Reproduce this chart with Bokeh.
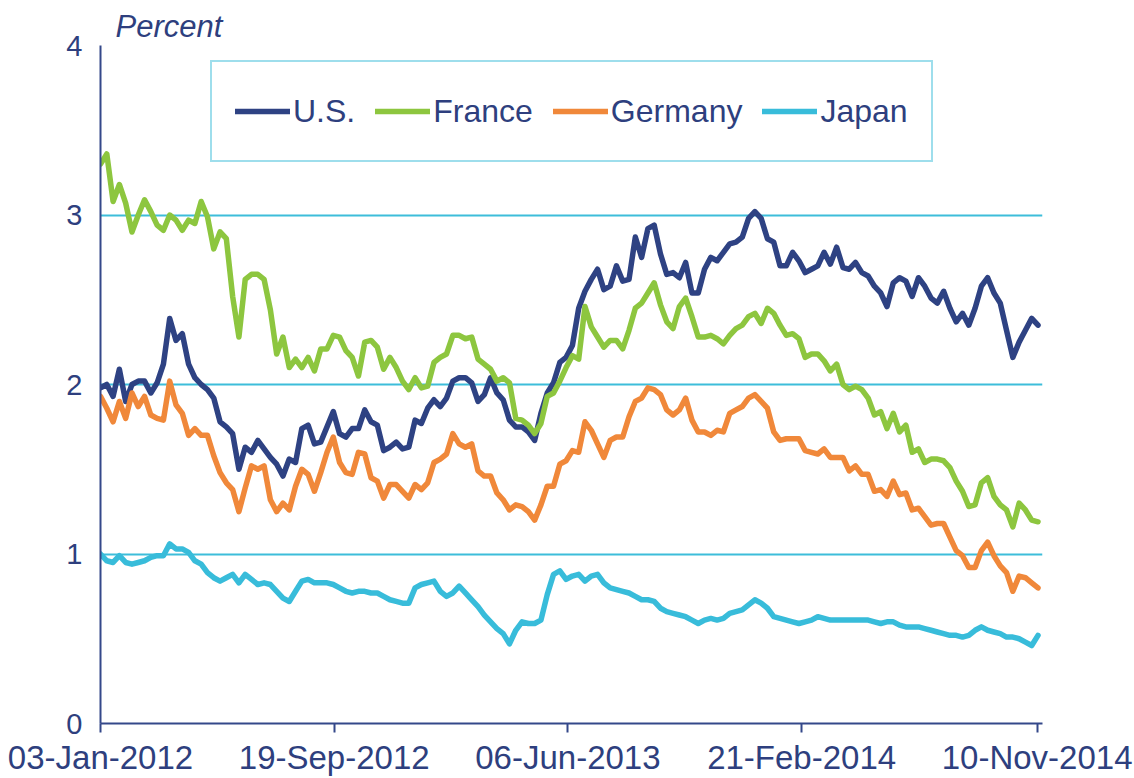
import pandas as pd
from bokeh.plotting import figure
from bokeh.models import Legend, LegendItem, FixedTicker, Range1d
from bokeh.embed import file_html
from bokeh.resources import INLINE

# weekly observation dates
dates = pd.date_range("2012-01-03", periods=150, freq="7D")

us = [1.98, 2.00, 1.93, 2.09, 1.90, 2.00, 2.02, 2.02, 1.95, 2.01,
      2.12, 2.39, 2.26, 2.30, 2.12, 2.04, 2.00, 1.97, 1.92, 1.78,
      1.75, 1.71, 1.50, 1.63, 1.60, 1.67, 1.62, 1.57, 1.53, 1.46,
      1.56, 1.54, 1.74, 1.76, 1.65, 1.66, 1.75, 1.84, 1.71, 1.69,
      1.74, 1.74, 1.85, 1.78, 1.76, 1.61, 1.63, 1.66, 1.62, 1.63,
      1.79, 1.77, 1.86, 1.91, 1.87, 1.92, 2.02, 2.04, 2.04, 2.01,
      1.90, 1.94, 2.04, 1.95, 1.91, 1.79, 1.75, 1.75, 1.72, 1.67,
      1.83, 1.95, 2.01, 2.13, 2.16, 2.23, 2.45, 2.55, 2.62, 2.68,
      2.56, 2.58, 2.70, 2.61, 2.62, 2.87, 2.75, 2.92, 2.94, 2.77,
      2.65, 2.66, 2.63, 2.72, 2.54, 2.54, 2.68, 2.75, 2.73, 2.78,
      2.83, 2.84, 2.87, 2.98, 3.02, 2.98, 2.86, 2.84, 2.70, 2.70,
      2.78, 2.73, 2.66, 2.68, 2.70, 2.78, 2.71, 2.81, 2.69, 2.68,
      2.72, 2.66, 2.64, 2.58, 2.54, 2.46, 2.60, 2.63, 2.61, 2.52,
      2.63, 2.58, 2.51, 2.48, 2.55, 2.45, 2.37, 2.42, 2.35, 2.45,
      2.58, 2.63, 2.54, 2.48, 2.32, 2.16, 2.25, 2.32, 2.39, 2.35]

france = [3.30, 3.36, 3.08, 3.18, 3.07, 2.90, 3.00, 3.09, 3.02, 2.94,
          2.91, 3.00, 2.97, 2.91, 2.97, 2.95, 3.08, 2.99, 2.80, 2.90,
          2.86, 2.52, 2.28, 2.62, 2.65, 2.65, 2.62, 2.44, 2.18, 2.28,
          2.10, 2.15, 2.10, 2.16, 2.08, 2.21, 2.21, 2.29, 2.28, 2.20,
          2.16, 2.05, 2.25, 2.26, 2.22, 2.09, 2.16, 2.10, 2.02, 1.97,
          2.04, 1.98, 1.99, 2.13, 2.16, 2.18, 2.29, 2.29, 2.27, 2.28,
          2.15, 2.12, 2.09, 2.02, 2.04, 2.01, 1.80, 1.79, 1.76, 1.71,
          1.77, 1.93, 1.95, 2.02, 2.10, 2.17, 2.15, 2.46, 2.34, 2.28,
          2.22, 2.26, 2.26, 2.21, 2.32, 2.45, 2.48, 2.54, 2.60, 2.47,
          2.37, 2.33, 2.46, 2.51, 2.40, 2.28, 2.28, 2.29, 2.27, 2.24,
          2.29, 2.33, 2.35, 2.40, 2.42, 2.36, 2.45, 2.42, 2.35, 2.29,
          2.30, 2.27, 2.16, 2.18, 2.18, 2.14, 2.08, 2.12, 2.00, 1.97,
          1.99, 1.97, 1.92, 1.82, 1.84, 1.74, 1.83, 1.72, 1.76, 1.60,
          1.62, 1.54, 1.56, 1.56, 1.55, 1.51, 1.43, 1.37, 1.28, 1.29,
          1.42, 1.45, 1.34, 1.29, 1.26, 1.16, 1.30, 1.26, 1.20, 1.19]

germany = [1.93, 1.86, 1.78, 1.90, 1.80, 1.95, 1.87, 1.93, 1.82, 1.80,
           1.79, 2.02, 1.88, 1.83, 1.70, 1.74, 1.70, 1.70, 1.58, 1.48,
           1.42, 1.38, 1.25, 1.39, 1.52, 1.50, 1.52, 1.32, 1.25, 1.30,
           1.26, 1.40, 1.50, 1.47, 1.37, 1.48, 1.60, 1.69, 1.54, 1.48,
           1.47, 1.60, 1.59, 1.45, 1.43, 1.33, 1.41, 1.41, 1.37, 1.33,
           1.41, 1.38, 1.42, 1.54, 1.56, 1.59, 1.71, 1.65, 1.63, 1.65,
           1.49, 1.46, 1.46, 1.36, 1.32, 1.26, 1.29, 1.28, 1.25, 1.20,
           1.29, 1.40, 1.40, 1.53, 1.55, 1.61, 1.60, 1.78, 1.73, 1.65,
           1.57, 1.67, 1.69, 1.69, 1.81, 1.90, 1.92, 1.98, 1.97, 1.94,
           1.85, 1.82, 1.85, 1.92, 1.79, 1.72, 1.72, 1.70, 1.73, 1.72,
           1.83, 1.85, 1.87, 1.92, 1.94, 1.90, 1.86, 1.72, 1.67, 1.68,
           1.68, 1.68, 1.61, 1.60, 1.59, 1.62, 1.57, 1.57, 1.57, 1.49,
           1.52, 1.47, 1.47, 1.37, 1.38, 1.34, 1.43, 1.35, 1.36, 1.26,
           1.27, 1.22, 1.17, 1.18, 1.18, 1.10, 1.02, 0.99, 0.92, 0.92,
           1.02, 1.07, 0.99, 0.93, 0.89, 0.78, 0.87, 0.86, 0.83, 0.80]

japan = [1.00, 0.96, 0.95, 0.99, 0.95, 0.94, 0.95, 0.96, 0.98, 0.99,
         0.99, 1.06, 1.03, 1.03, 1.01, 0.96, 0.94, 0.89, 0.86, 0.84,
         0.86, 0.88, 0.83, 0.88, 0.85, 0.82, 0.83, 0.82, 0.78, 0.74,
         0.72, 0.78, 0.84, 0.85, 0.83, 0.83, 0.83, 0.82, 0.80, 0.78,
         0.77, 0.78, 0.78, 0.77, 0.77, 0.75, 0.73, 0.72, 0.71, 0.71,
         0.80, 0.82, 0.83, 0.84, 0.78, 0.75, 0.77, 0.81, 0.77, 0.73,
         0.69, 0.64, 0.60, 0.56, 0.53, 0.47, 0.55, 0.60, 0.59, 0.59,
         0.61, 0.76, 0.88, 0.90, 0.85, 0.87, 0.88, 0.84, 0.87, 0.88,
         0.83, 0.80, 0.79, 0.78, 0.77, 0.75, 0.73, 0.73, 0.72, 0.68,
         0.66, 0.65, 0.64, 0.63, 0.61, 0.59, 0.61, 0.62, 0.61, 0.62,
         0.65, 0.66, 0.67, 0.70, 0.73, 0.71, 0.68, 0.63, 0.62, 0.61,
         0.60, 0.59, 0.60, 0.61, 0.63, 0.62, 0.61, 0.61, 0.61, 0.61,
         0.61, 0.61, 0.61, 0.60, 0.59, 0.60, 0.60, 0.58, 0.57, 0.57,
         0.57, 0.56, 0.55, 0.54, 0.53, 0.52, 0.52, 0.51, 0.52, 0.55,
         0.57, 0.55, 0.54, 0.53, 0.51, 0.51, 0.50, 0.48, 0.46, 0.52]

tick_dates = ["2012-01-03", "2012-09-19", "2013-06-06", "2014-02-21", "2014-11-10"]
tick_labels = ["03-Jan-2012", "19-Sep-2012", "06-Jun-2013", "21-Feb-2014", "10-Nov-2014"]
y_ticks = [0, 1, 2, 3, 4]

series_names = ["U.S.", "France", "Germany", "Japan"]
series_colors = ["#2E4283", "#8DC63F", "#F0883A", "#38BCDA"]

NAVY = "#2E3F7E"
AXIS = "#34488A"
GRID = "#3DBDDA"
FONT = "Liberation Sans"

p = figure(frame_width=942, frame_height=678,
           min_border_left=100, min_border_right=92,
           min_border_top=45, min_border_bottom=55,
           x_axis_type="datetime",
           x_range=Range1d(pd.Timestamp("2012-01-03"), pd.Timestamp("2014-11-16")),
           y_range=Range1d(0, 4),
           output_backend="svg", toolbar_location=None,
           background_fill_color="white", border_fill_color="white")
p.outline_line_color = None

p.title.text = "Percent"
p.title.text_font = FONT
p.title.text_font_style = "italic"
p.title.text_font_size = "31px"
p.title.text_color = NAVY
p.title.align = "left"
p.title.offset = 15
p.title.standoff = 3

tick_ms = [pd.Timestamp(d).value // 10**6 for d in tick_dates]
p.xaxis.ticker = FixedTicker(ticks=tick_ms)
p.xaxis.major_label_overrides = {t: l for t, l in zip(tick_ms, tick_labels)}
p.xaxis.minor_tick_line_color = None
p.xaxis.major_tick_in = 0
p.xaxis.major_tick_out = 9
p.xaxis.major_tick_line_color = AXIS
p.xaxis.major_tick_line_width = 2
p.xaxis.axis_line_color = AXIS
p.xaxis.axis_line_width = 2
p.xaxis.major_label_text_font = FONT
p.xaxis.major_label_text_font_size = "33px"
p.xaxis.major_label_text_color = NAVY
p.xaxis.major_label_standoff = 6

p.yaxis.ticker = FixedTicker(ticks=y_ticks)
p.yaxis.minor_tick_line_color = None
p.yaxis.major_tick_line_color = None
p.yaxis.major_tick_in = 0
p.yaxis.major_tick_out = 0
p.yaxis.axis_line_color = AXIS
p.yaxis.axis_line_width = 2
p.yaxis.major_label_text_font = FONT
p.yaxis.major_label_text_font_size = "29px"
p.yaxis.major_label_text_color = NAVY
p.yaxis.major_label_standoff = 18

p.xgrid.grid_line_color = None
p.ygrid.ticker = FixedTicker(ticks=y_ticks)
p.ygrid.grid_line_color = GRID
p.ygrid.grid_line_width = 2

renderers = []
for vals, col in zip([us, france, germany, japan], series_colors):
    r = p.line(dates, vals, line_color=col, line_width=5.5,
               line_join="round", line_cap="round")
    renderers.append(r)

legend = Legend(items=[LegendItem(label=n, renderers=[r]) for n, r in zip(series_names, renderers)],
                orientation="horizontal", location=(110, 561), margin=0,
                padding=23, spacing=20, glyph_width=55, glyph_height=52,
                label_height=52, label_standoff=3,
                label_text_font=FONT, label_text_font_size="32px",
                label_text_color=NAVY, border_line_color=GRID,
                border_line_width=2, background_fill_alpha=1.0)
p.add_layout(legend)

open("out.html", "w").write(file_html(p, INLINE))
